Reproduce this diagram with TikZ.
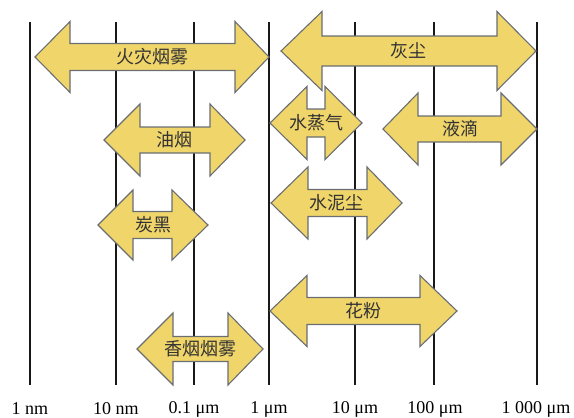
\documentclass[tikz,border=0pt]{standalone}
\usepackage{fontspec}
\setmainfont{Liberation Serif}
\newfontfamily\cjk{Noto Sans CJK SC}
\definecolor{arrfill}{HTML}{F0D56A}
\definecolor{arrline}{HTML}{6A6E72}
\definecolor{txt}{HTML}{333333}
\newcommand\dblarr[9]{% name, xl, xr, yc, shaft half, head half, head len L, head len R, text
  \fill[arrfill, draw=arrline, line width=1.1pt, line join=miter]
    (#2,#4) -- (#2+#7,#4-#6) -- (#2+#7,#4-#5) -- (#3-#8,#4-#5) -- (#3-#8,#4-#6)
    -- (#3,#4) -- (#3-#8,#4+#6) -- (#3-#8,#4+#5) -- (#2+#7,#4+#5) -- (#2+#7,#4+#6) -- cycle;
  \node[lab] (#1) at ({(#2+#3)/2},#4) {#9};
}
\begin{document}
\begin{tikzpicture}[x=1pt,y=-1pt,
  lab/.style={font=\cjk\fontsize{18}{18}\selectfont, text=txt, inner sep=0pt},
  scalelab/.style={font=\fontsize{18}{18}\selectfont, text=black, inner sep=0pt, anchor=base},
  vline/.style={line width=2.8pt, draw=black!90}]
\useasboundingbox (0,0) rectangle (574,418);
% vertical lines
\foreach \n/\x in {a/30,b/116,c/194,d/269,e/355,f/434,g/537}{
  \coordinate (\n top) at (\x,22);
  \coordinate (\n bot) at (\x,385);
  \draw[vline] (\n top) -- (\n bot);
}
% scale labels
\node[scalelab] (l1) at (30,414) {1 nm};
\node[scalelab] (l2) at (116,414) {10 nm};
\node[scalelab] (l3) at (194,413) {0.1 μm};
\node[scalelab] (l4) at (269,413) {1 μm};
\node[scalelab] (l5) at (355,413) {10 μm};
\node[scalelab] (l6) at (435,413) {100 μm};
\node[scalelab] (l7) at (536,413) {1 000 μm};
% arrows
\dblarr{smoke}{35}{269}{57}{13.5}{35.5}{35}{34}{火灾烟雾}
\dblarr{dust}{281}{536}{51}{15}{39.5}{41}{39}{灰尘}
\dblarr{oil}{104}{245}{140}{13}{36}{36}{35}{油烟}
\dblarr{vapor}{270}{362}{123}{14}{36.5}{37}{37}{水蒸气}
\dblarr{drop}{383}{537}{129}{13}{36}{35}{36}{液滴}
\dblarr{carbon}{98}{208}{225}{13.5}{35}{35}{36}{炭黑}
\dblarr{cement}{271}{402}{203}{13.5}{36}{37}{35}{水泥尘}
\dblarr{pollen}{270}{457}{311}{13.5}{35.5}{37}{37}{花粉}
\dblarr{cig}{137}{263}{349}{12.5}{36}{36}{35}{香烟烟雾}
\end{tikzpicture}
\end{document}
